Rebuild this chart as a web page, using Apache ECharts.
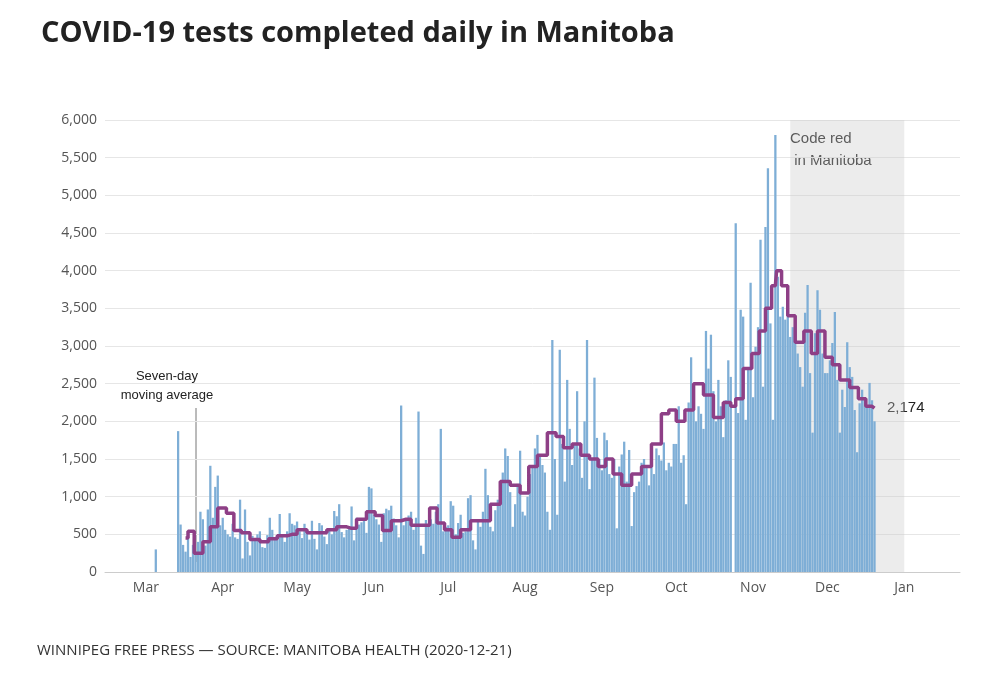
<!DOCTYPE html>
<html>
<head>
<meta charset="utf-8">
<script src="https://cdn.jsdelivr.net/npm/echarts@6/dist/echarts.min.js"></script>
<style>
  html, body { margin: 0; padding: 0; background: #fff; }
  #chart { width: 1000px; height: 692px; }
</style>
</head>
<body>
<div id="chart"></div>
<script>
// daily tests, by month (first value of each array = first day listed)
var early = [["2020-03-05", 300]];
var startDay = "2020-03-14";
var mar = [1870, 630, 360, 270, 540, 200, 360, 250, 400, 800, 700, 350, 830, 1410, 720, 1130, 1280, 620];
var apr = [720, 560, 500, 470, 640, 460, 440, 960, 180, 830, 400, 220, 480, 450, 500, 540, 330, 320, 490, 720, 560, 440, 430, 770, 470, 400, 540, 780, 640, 620];
var may = [670, 540, 450, 640, 560, 430, 680, 440, 300, 650, 620, 470, 370, 560, 500, 810, 740, 900, 530, 460, 560, 600, 870, 420, 720, 630, 660, 700, 520, 1130, 1110];
var jun = [760, 700, 630, 400, 780, 840, 820, 880, 710, 620, 460, 2210, 620, 680, 750, 800, 560, 720, 2130, 350, 240, 690, 600, 700, 640, 800, 900, 1900, 540, 600];
var jul = [620, 940, 880, 500, 650, 760, 520, 540, 980, 1020, 420, 300, 680, 600, 800, 1370, 1020, 600, 540, 820, 960, 1200, 1320, 1640, 1540, 1060, 600, 900, 1170, 1610, 800];
var aug = [750, 1000, 1300, 1420, 1640, 1820, 1530, 1420, 1320, 800, 560, 3080, 1500, 760, 2950, 1700, 1200, 2550, 1900, 1420, 1700, 2400, 1640, 1250, 2000, 3080, 1100, 1500, 2580, 1780, 1500];
var sep = [1350, 1850, 1750, 1300, 1250, 1500, 580, 1400, 1560, 1730, 1200, 1620, 610, 1060, 1140, 1200, 1450, 1500, 1380, 1150, 1460, 1300, 1640, 1550, 1480, 1720, 1350, 1450, 1400, 1700];
var oct = [1700, 2200, 1450, 1550, 900, 2250, 2850, 2150, 2000, 2200, 2100, 1900, 3200, 2700, 3150, 2400, 2000, 2550, 2200,
           1790, 2280, 2810, 2590, 0, 4630, 2110, 3480, 3390, 2020, 2720, 3840];
var nov = [2320, 2990, 3250, 4410, 2460, 4580, 5360, 3300, 2020, 5800, 3920, 3390, 3520, 3350, 3520, 3120, 3250, 3390, 2900, 2720,
           2460, 3440, 3810, 2640, 1850, 3170, 3740, 3480, 2900, 2640];
var dec = [2640, 2810, 3040, 3450, 2550, 1850, 2420, 2190, 3050, 2720, 2590, 2150, 1590, 2240, 2420, 2320, 2190, 2510, 2280, 2000];

// seven-day moving average
var maDates = ["2020-03-17","2020-03-19","2020-03-22","2020-03-26","2020-03-28","2020-04-01","2020-04-04","2020-04-07","2020-04-10","2020-04-14",
  "2020-04-18","2020-04-21","2020-04-25","2020-04-29","2020-05-03","2020-05-07","2020-05-11","2020-05-15","2020-05-19","2020-05-23",
  "2020-05-27","2020-05-31","2020-06-03","2020-06-06","2020-06-10","2020-06-14","2020-06-18","2020-06-22","2020-06-25","2020-06-28",
  "2020-07-01","2020-07-04","2020-07-08","2020-07-12","2020-07-16","2020-07-20","2020-07-24","2020-07-28","2020-08-01","2020-08-04",
  "2020-08-08","2020-08-12","2020-08-15","2020-08-18","2020-08-22","2020-08-25","2020-08-29","2020-09-01","2020-09-04","2020-09-07",
  "2020-09-11","2020-09-15","2020-09-19","2020-09-23","2020-09-27","2020-09-29","2020-10-03","2020-10-06","2020-10-10","2020-10-14",
  "2020-10-18","2020-10-22","2020-10-24","2020-10-26","2020-10-30","2020-11-02","2020-11-05","2020-11-07","2020-11-10","2020-11-11",
  "2020-11-14","2020-11-16","2020-11-20","2020-11-23","2020-11-26","2020-11-28","2020-12-02","2020-12-04","2020-12-08","2020-12-12",
  "2020-12-15","2020-12-18","2020-12-20"];
var maVals = [450, 540, 250, 400, 600, 850, 780, 550, 520, 430,
  400, 440, 480, 500, 560, 520, 520, 560, 600, 580,
  700, 800, 750, 550, 680, 700, 620, 620, 850, 650,
  560, 460, 560, 680, 680, 900, 1200, 1150, 1050, 1400,
  1550, 1850, 1800, 1650, 1700, 1550, 1500, 1400, 1500, 1300,
  1150, 1300, 1400, 1700, 2100, 2150, 2000, 2150, 2500, 2350,
  2050, 2250, 2200, 2300, 2700, 2900, 3200, 3500, 3800, 4000,
  3800, 3400, 3050, 3200, 2900, 3200, 2850, 2750, 2550, 2450,
  2300, 2200, 2174];

var yTicks = [0, 500, 1000, 1500, 2000, 2500, 3000, 3500, 4000, 4500, 5000, 5500, 6000];
var monthNames = ["Jan","Feb","Mar","Apr","May","Jun","Jul","Aug","Sep","Oct","Nov","Dec"];

function iso(d) {
  return d.getUTCFullYear() + "-" + String(d.getUTCMonth() + 1).padStart(2, "0") + "-" + String(d.getUTCDate()).padStart(2, "0");
}
var days = [];
for (var t = Date.UTC(2020, 1, 14); t <= Date.UTC(2021, 0, 23); t += 86400000) days.push(iso(new Date(t)));

var tests = {};
early.forEach(function (e) { tests[e[0]] = e[1]; });
var all = [].concat(mar, apr, may, jun, jul, aug, sep, oct, nov, dec);
var s0 = days.indexOf(startDay);
all.forEach(function (v, i) { tests[days[s0 + i]] = v; });
var barData = days.map(function (d) { return tests[d] === undefined ? null : tests[d]; });

var maMap = {};
maDates.forEach(function (d, i) { maMap[d] = maVals[i]; });
var maData = days.map(function (d) { return maMap[d] === undefined ? null : maMap[d]; });

var isFirst = function (i, v) { return v.slice(8) === "01"; };

var chart = echarts.init(document.getElementById("chart"));
chart.setOption({
  animation: false,
  textStyle: { fontFamily: "Open Sans" },
  grid: { left: 105, right: 40, top: 120, bottom: 120 },
  title: {
    text: "COVID-19 tests completed daily in Manitoba",
    left: 36, top: 14,
    textStyle: { fontSize: 29, fontWeight: "bold", color: "#222", fontFamily: "Open Sans" }
  },
  xAxis: {
    type: "category",
    data: days,
    boundaryGap: true,
    axisLine: { lineStyle: { color: "#ccc" } },
    axisTick: { interval: isFirst, alignWithLabel: true, lineStyle: { color: "#ccc" } },
    axisLabel: {
      interval: isFirst, color: "#555", fontSize: 14, margin: 9,
      formatter: function (v) { return monthNames[+v.slice(5, 7) - 1]; }
    }
  },
  yAxis: {
    type: "value", min: 0, max: 6000, interval: 500,
    axisLine: { show: false }, axisTick: { show: false },
    splitLine: { lineStyle: { color: "#e6e6e6" } },
    axisLabel: { color: "#555", fontSize: 14, formatter: function (v) { return v.toLocaleString("en-US"); } }
  },
  series: [
    {
      type: "bar",
      data: barData,
      barCategoryGap: "8%",
      itemStyle: { color: "#7eaed6" },
      markArea: {
        silent: true,
        itemStyle: { color: "rgba(200,200,200,0.35)" },
        data: [[{ xAxis: "2020-11-12" }, { xAxis: "2021-01-08" }]]
      },
      z: 2
    },
    {
      type: "line",
      data: maData,
      connectNulls: true,
      step: "middle",
      symbol: "none",
      lineStyle: { color: "#8e3f86", width: 3.5 },
      z: 3
    }
  ],
  graphic: [
    { type: "text", left: 790, top: 128, style: { text: "Code red\n in Manitoba", fontSize: 15, lineHeight: 22, fill: "#222", fontFamily: "Liberation Sans" } },
    { type: "text", x: 167, y: 367, style: { text: "Seven-day\nmoving average", fontSize: 13, lineHeight: 19, align: "center", fill: "#222", fontFamily: "Liberation Sans" } },
    { type: "line", shape: { x1: 196, y1: 408, x2: 196, y2: 562 }, style: { stroke: "#777", lineWidth: 1 } },
    { type: "text", left: 887, top: 400, style: { text: "2,174", fontSize: 15, fill: "#222", fontFamily: "Liberation Sans" } },
    { type: "text", left: 37, top: 643, style: { text: "WINNIPEG FREE PRESS — SOURCE: MANITOBA HEALTH (2020-12-21)", fontSize: 15, fill: "#333", fontFamily: "Open Sans" } }
  ]
});
</script>
</body>
</html>
